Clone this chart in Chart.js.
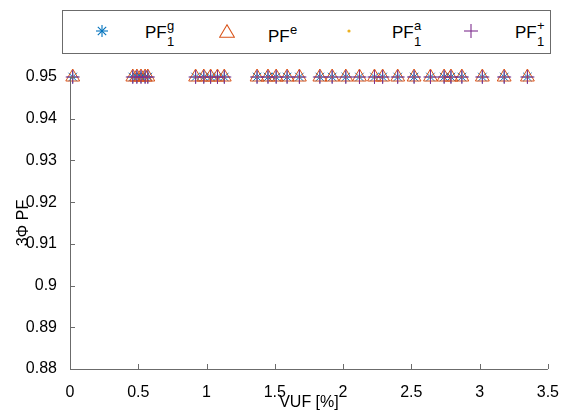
<!DOCTYPE html>
<html>
<head>
<meta charset="utf-8">
<script src="https://cdn.jsdelivr.net/npm/chart.js"></script>
<style>
  body { margin: 0; background: #fff; }
  #wrap { position: relative; width: 565px; height: 416px; font-family: "Liberation Sans", Arial, sans-serif; }
  #legend { position: absolute; left: 62px; top: 10px; width: 489px; height: 44px; border: 1px solid #6b6b6b; box-sizing: border-box; background: #fff; }
  .mk { position: absolute; }
  .t { position: absolute; color: #000; white-space: nowrap; line-height: 1; }
  .big { font-size: 17px; }
  .small { font-size: 13px; }
</style>
</head>
<body>
<div id="wrap">
  <canvas id="grafica" width="565" height="416"></canvas>
  <div id="legend"></div>
</div>
<script>
// datos
const vuf = [0.02, 0.46, 0.49, 0.52, 0.55, 0.57, 0.92, 0.98, 1.03, 1.08, 1.13,
  1.37, 1.45, 1.51, 1.59, 1.68, 1.83, 1.92, 2.02, 2.12, 2.23, 2.29,
  2.40, 2.52, 2.64, 2.74, 2.79, 2.87, 3.02, 3.18, 3.35];
const pfG = vuf.map(() => 0.95);
const pfE = vuf.map(() => 0.95);
const pfA = vuf.map(() => 0.95);
const pfPlus = vuf.map(() => 0.95);

const xTicks = [0, 0.5, 1, 1.5, 2, 2.5, 3, 3.5];
const yTicks = [0.88, 0.89, 0.9, 0.91, 0.92, 0.93, 0.94, 0.95];

const azul = "#0072BD", naranja = "#D95319", amarillo = "#EDB120", morado = "#7E2F8E";
const ejeColor = "#6b6b6b";

function puntos(ys) {
  return vuf.map((x, i) => ({ x: x, y: ys[i] }));
}

// ticks hacia adentro como en MATLAB
const ticksAdentro = {
  id: "ticksAdentro",
  afterDatasetsDraw(chart) {
    const ctx = chart.ctx;
    const a = chart.chartArea;
    const xs = chart.scales.x, ys = chart.scales.y;
    ctx.save();
    ctx.strokeStyle = ejeColor;
    ctx.lineWidth = 1;
    ctx.beginPath();
    ctx.moveTo(a.left + 0.5, a.top);
    ctx.lineTo(a.left + 0.5, a.bottom + 0.5);
    ctx.lineTo(a.right, a.bottom + 0.5);
    xTicks.forEach(v => {
      const p = Math.round(xs.getPixelForValue(v)) + 0.5;
      ctx.moveTo(p, a.bottom);
      ctx.lineTo(p, a.bottom - 5);
    });
    yTicks.forEach(v => {
      const p = Math.round(ys.getPixelForValue(v)) + 0.5;
      ctx.moveTo(a.left, p);
      ctx.lineTo(a.left + 5, p);
    });
    ctx.stroke();
    ctx.restore();
  }
};

const ctx = document.getElementById("grafica");

new Chart(ctx, {
  type: "scatter",
  data: {
    datasets: [
      { label: "PFg1", data: puntos(pfG), pointStyle: "star", pointRadius: 6, borderColor: azul, backgroundColor: azul, borderWidth: 1, order: 4 },
      { label: "PFe", data: puntos(pfE), pointStyle: "triangle", pointRadius: 8, borderColor: naranja, backgroundColor: "rgba(0,0,0,0)", borderWidth: 1, order: 3 },
      { label: "PFa1", data: puntos(pfA), pointStyle: "circle", pointRadius: 1.5, borderColor: amarillo, backgroundColor: amarillo, borderWidth: 0, order: 2 },
      { label: "PF+1", data: puntos(pfPlus), pointStyle: "cross", pointRadius: 7, borderColor: morado, backgroundColor: morado, borderWidth: 1, order: 1 }
    ]
  },
  options: {
    responsive: false,
    animation: false,
    clip: false,
    layout: { padding: { top: 77, right: 16, left: 0, bottom: 0 } },
    plugins: { legend: { display: false }, tooltip: { enabled: false } },
    elements: { point: { hoverRadius: 0 } },
    scales: {
      x: {
        type: "linear",
        min: 0, max: 3.5,
        afterBuildTicks: s => { s.ticks = xTicks.map(v => ({ value: v })); },
        afterFit: s => { s.height = 47; },
        grid: { display: false },
        border: { display: false },
        ticks: { color: "#000", padding: 6, font: { family: "Liberation Sans", size: 16 }, maxRotation: 0,
          callback: v => String(v) },
        title: { display: true, text: "VUF [%]", color: "#000", font: { family: "Liberation Sans", size: 16 }, padding: { top: 0, bottom: 4 } }
      },
      y: {
        type: "linear",
        min: 0.88, max: 0.95,
        afterBuildTicks: s => { s.ticks = yTicks.map(v => ({ value: v })); },
        afterFit: s => { s.width = 70; },
        grid: { display: false },
        border: { display: false },
        ticks: { color: "#000", padding: 5, font: { family: "Liberation Sans", size: 16 },
          callback: v => String(Math.round(v * 100) / 100) },
        title: { display: true, text: "3\u03A6 PF", color: "#000", font: { family: "Liberation Sans", size: 16 }, padding: { top: 14, bottom: 0 } }
      }
    }
  },
  plugins: [ticksAdentro]
});

// leyenda en HTML (sub/superindices)
function svgMarcador(tipo, color) {
  let c = "";
  if (tipo === "star") {
    c = '<line x1="7" y1="1" x2="7" y2="13"/><line x1="1" y1="7" x2="13" y2="7"/><line x1="2.8" y1="2.8" x2="11.2" y2="11.2"/><line x1="11.2" y1="2.8" x2="2.8" y2="11.2"/>';
  } else if (tipo === "triangle") {
    c = '<polygon points="7,0.8 14.4,13.2 -0.4,13.2" fill="none"/>';
  } else if (tipo === "dot") {
    c = '<circle cx="7" cy="7" r="1.6" fill="' + color + '" stroke="none"/>';
  } else {
    c = '<line x1="7" y1="0" x2="7" y2="14"/><line x1="0" y1="7" x2="14" y2="7"/>';
  }
  return '<svg width="16" height="16" viewBox="-1 -1 16 16" stroke="' + color + '" stroke-width="1.1">' + c + '</svg>';
}

const leyendaItems = [
  { tipo: "star", color: azul, mx: 102, sup: "g", sub: "1", x: 145, base: 38 },
  { tipo: "triangle", color: naranja, mx: 227, sup: "e", sub: "", x: 268, base: 42 },
  { tipo: "dot", color: amarillo, mx: 349, sup: "a", sub: "1", x: 392, base: 38 },
  { tipo: "plus", color: morado, mx: 471, sup: "+", sub: "1", x: 515, base: 38 }
];

const wrap = document.getElementById("wrap");
leyendaItems.forEach(it => {
  const m = document.createElement("div");
  m.className = "mk";
  m.style.left = (it.mx - 8) + "px";
  m.style.top = (31 - 8) + "px";
  m.innerHTML = svgMarcador(it.tipo, it.color);
  wrap.appendChild(m);

  const pf = document.createElement("span");
  pf.className = "t big";
  pf.textContent = "PF";
  pf.style.left = it.x + "px";
  pf.style.top = (it.base - 14.5) + "px";
  wrap.appendChild(pf);

  const sp = document.createElement("span");
  sp.className = "t small";
  sp.textContent = it.sup;
  sp.style.left = (it.x + 22) + "px";
  sp.style.top = (it.base - 8 - 11) + "px";
  wrap.appendChild(sp);

  if (it.sub) {
    const sb = document.createElement("span");
    sb.className = "t small";
    sb.textContent = it.sub;
    sb.style.left = (it.x + 22) + "px";
    sb.style.top = (it.base + 8 - 11) + "px";
    wrap.appendChild(sb);
  }
});
</script>
</body>
</html>
